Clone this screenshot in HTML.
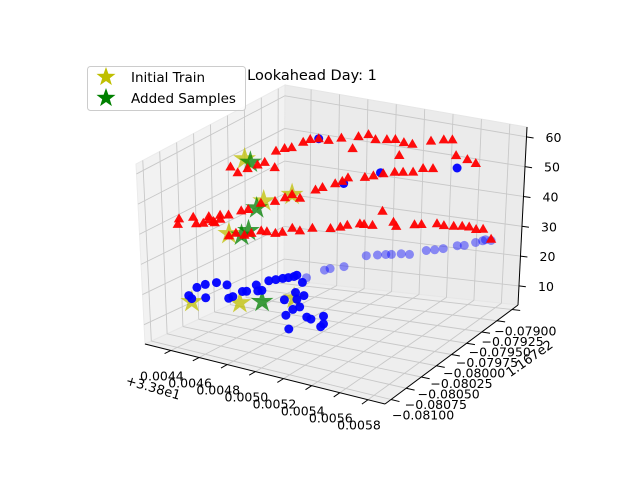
<!DOCTYPE html>
<html><head><meta charset="utf-8"><style>
html,body{margin:0;padding:0;background:#fff;}
svg{display:block;font-family:"DejaVu Sans","Liberation Sans",sans-serif;}
</style></head><body>
<svg id="chart" width="640" height="480" viewBox="0 0 640 480">
<g id="panes"></g>
<g id="grid"></g>
<g id="axes"></g>
<g id="marks"></g>
<text x="312" y="80" font-size="14.5" text-anchor="middle" fill="#000">Lookahead Day: 1</text>
<text x="152" y="392" font-size="13" text-anchor="middle" transform="rotate(16 152 392)">+3.38e1</text>
<text x="532" y="362" font-size="13" text-anchor="middle" transform="rotate(-35 532 362)">1.167e2</text>
<g>
<rect x="87.5" y="66.5" width="158" height="44" rx="3" fill="#fff" fill-opacity="0.85" stroke="#ccc"/>
<polygon id="lgY" fill="#bfbf00"/>
<text x="131" y="82" font-size="13.5">Initial Train</text>
<polygon id="lgG" fill="#008000"/>
<text x="131" y="103" font-size="13.5">Added Samples</text>
</g>
</svg>
<script>
// axis domains (x, y stored in 1e-3 units relative to offsets)
const xTicks=[4.4,4.6,4.8,5.0,5.2,5.4,5.6,5.8];
const yTicks=[-81.0,-80.75,-80.5,-80.25,-80.0,-79.75,-79.5,-79.25,-79.0];
const zTicks=[10,20,30,40,50,60];

const redX=[4.35,4.40,4.47,4.54,4.59,4.66,4.67,4.73,4.78,
4.45,4.50,4.56,4.63,4.72,4.84,4.91,4.96,5.04,5.10,5.16,5.22,5.35,5.44,5.50,4.80,5.13,5.53,5.61,5.67,
4.73,4.78,4.66,4.56,4.42,4.47,4.33,4.27,
4.50,4.39,4.29,4.28,4.41,4.46,4.54,
4.43,4.54,4.59,4.68,4.73,4.77,4.89,4.95,5.02,5.10,5.16,5.23,5.30,5.37,
4.33,4.38,4.44,4.49,4.56,4.60,4.66,4.71,4.78,
4.50,4.53,4.58,
4.43,4.52,4.65,4.72,4.77,4.86,4.89,4.95,5.02,5.10,5.12,5.25,5.30,5.41,5.46,5.53,5.59,5.64,5.69,5.74,5.80];
const redY=[-80,-80,-80,-80,-80,-80,-80,-80,-80,
-79.12,-79.12,-79.12,-79.12,-79.12,-79.12,-79.12,-79.12,-79.12,-79.12,-79.12,-79.12,-79.12,-79.12,-79.12,-79.12,-79.12,-79.12,-79.12,-79.12,
-80,-80,-80,-80,-80,-80,-80,-80,
-80.66,-80.66,-80.66,-80.66,-80.66,-80.66,-80.66,
-79.12,-79.12,-79.12,-79.12,-79.12,-79.12,-79.12,-79.12,-79.12,-79.12,-79.12,-79.12,-79.12,-79.12,
-80,-80,-80,-80,-80,-80,-80,-80,-80,
-80.66,-80.66,-80.66,
-79.12,-79.12,-79.12,-79.12,-79.12,-79.12,-79.12,-79.12,-79.12,-79.12,-79.12,-79.12,-79.12,-79.12,-79.12,-79.12,-79.12,-79.12,-79.12,-79.12,-79.12];
const redZ=[51.0,49.6,51.6,53.4,54.7,53.7,59.1,60.5,61.3,
49.8,51.0,51.7,51.7,53.1,54.5,55.7,54.5,55.1,55.6,55.1,55.0,57.1,58.2,58.7,50.4,50.7,53.8,53.1,52.3,
44.6,46.1,42.8,41.3,37.6,38.5,35.5,34.9,
44.0,42.6,41.0,39.1,40.7,41.4,42.4,
32.2,35.5,36.6,38.4,39.5,40.9,41.9,42.8,44.0,45.1,45.5,46.1,47.8,48.3,
28.8,30.1,30.0,31.0,32.4,32.5,32.5,33.3,35.2,
42.9,42.7,44.0,
22.0,23.4,24.1,25.0,25.9,26.9,26.9,27.0,32.0,29.0,27.8,29.2,29.6,30.6,30.3,30.6,31.0,31.1,30.6,31.0,28.1];

const blueX=[4.34,4.36,4.40,4.46,4.46,4.54,
4.31,4.32,4.35,4.42,4.45,4.52,4.53,4.56,4.61,4.66,4.71,4.75,4.79,4.81,4.72,4.73,4.75,4.78,4.80,4.81,4.83,4.85,4.86,4.88,4.91,5.00,5.00,4.98,
4.48,4.61,4.65,4.75,4.91,4.99,5.05,5.09,5.16,5.22,5.34,5.40,5.46,5.56,5.61,5.69,5.74,5.80,
4.56,5.00,4.74,5.54,5.76];
const blueY=[-80.66,-80.66,-80.66,-80.66,-80.66,-80.66,
-80,-80,-80,-80,-80,-80,-80,-80,-80,-80,-80,-80,-80,-80,-80,-80,-80,-80,-80,-80,-80,-80,-80,-80,-80,-80,-80,-80,
-79.12,-79.12,-79.12,-79.12,-79.12,-79.12,-79.12,-79.12,-79.12,-79.12,-79.12,-79.12,-79.12,-79.12,-79.12,-79.12,-79.12,-79.12,
-79.12,-79.12,-79.12,-79.12,-79.12];
const blueZ=[16.5,15.7,19.8,21.4,17.0,22.8,
13.0,8.8,9.6,11.8,12.1,14.7,12.9,13.3,16.8,17.6,18.4,19.0,19.7,20.3,11.6,6.7,2.4,9.0,14.6,12.5,10.2,18.3,14.1,7.3,6.9,8.6,6.1,5.0,
7.7,10.8,11.5,12.7,17.1,17.8,18.3,18.6,19.2,19.4,21.4,22.0,22.8,24.4,24.8,26.3,27.2,27.7,
51.7,44.2,38.9,49.8,27.7];

const initX=[4.45,4.58,4.78,4.33,4.40,4.79,4.36];
const initY=[-80,-80,-80,-80,-80,-80,-80.66];
const initZ=[54.5,42.2,46.1,29.5,8.0,12.7,14.7];
const addX=[4.49,4.53,4.42,4.47,4.56];
const addY=[-80,-80,-80,-80,-80];
const addZ=[53.8,39.5,29.8,31.7,9.7];

const XMIN=4.216,XMAX=5.921,YMIN=-81.1,YMAX=-78.9,ZMIN=3.6,ZMAX=63.3;
function P(x,y,z){
  const u=(x-XMIN)/(XMAX-XMIN),v=(y-YMIN)/(YMAX-YMIN),w=(z-ZMIN)/(ZMAX-ZMIN);
  const fx=145+139*v+(240-6*v)*u, fy=344-64*v+(60-35*v)*u;
  const ex=(-9+10*v)*(1-u)+9*v*u, H=180+15*v*(1-u)-2*u*v;
  return [fx+w*ex, fy-w*H];
}
const NS="http://www.w3.org/2000/svg";
function mk(tag,attrs,parent){const e=document.createElementNS(NS,tag);for(const k in attrs)e.setAttribute(k,attrs[k]);parent.appendChild(e);return e;}
function poly(pts){return pts.map(p=>p[0].toFixed(1)+","+p[1].toFixed(1)).join(" ");}
const panes=document.getElementById('panes'),grid=document.getElementById('grid'),axes=document.getElementById('axes'),marks=document.getElementById('marks');

let pe;
pe=mk('polygon',{points:poly([P(XMIN,YMIN,ZMIN),P(XMIN,YMAX,ZMIN),P(XMIN,YMAX,ZMAX),P(XMIN,YMIN,ZMAX)]),fill:'#f2f2f2',stroke:'#ebebeb'},panes);


pe=mk('polygon',{points:poly([P(XMIN,YMAX,ZMIN),P(XMAX,YMAX,ZMIN),P(XMAX,YMAX,ZMAX),P(XMIN,YMAX,ZMAX)]),fill:'#ebebeb',stroke:'#e6e6e6'},panes);


pe=mk('polygon',{points:poly([P(XMIN,YMIN,ZMIN),P(XMAX,YMIN,ZMIN),P(XMAX,YMAX,ZMIN),P(XMIN,YMAX,ZMIN)]),fill:'#eeeeee',stroke:'#e6e6e6'},panes);



function gl(a,b,name){const l=mk('line',{x1:a[0],y1:a[1],x2:b[0],y2:b[1],stroke:'#c8c8c8','stroke-width':0.9},grid);

}
xTicks.forEach(t=>{gl(P(t,YMIN,ZMIN),P(t,YMAX,ZMIN),'x-grid-floor');gl(P(t,YMAX,ZMIN),P(t,YMAX,ZMAX),'x-grid-wall');});
yTicks.forEach(t=>{gl(P(XMIN,t,ZMIN),P(XMAX,t,ZMIN),'y-grid-floor');gl(P(XMIN,t,ZMIN),P(XMIN,t,ZMAX),'y-grid-wall');});
zTicks.forEach(t=>{gl(P(XMIN,YMIN,t),P(XMIN,YMAX,t),'z-grid-left');gl(P(XMIN,YMAX,t),P(XMAX,YMAX,t),'z-grid-back');});

function al(a,b,name){const l=mk('line',{x1:a[0],y1:a[1],x2:b[0],y2:b[1],stroke:'#000','stroke-width':1},axes);

}
al(P(XMIN,YMIN,ZMIN),P(XMAX,YMIN,ZMIN),'x-axis-line');
al(P(XMAX,YMIN,ZMIN),P(XMAX,YMAX,ZMIN),'y-axis-line');
al(P(XMAX,YMAX,ZMIN),P(XMAX,YMAX,ZMAX),'z-axis-line');
function tx(x,y,s,anchor,name){const e=mk('text',{x:x.toFixed(1),y:y.toFixed(1),'font-size':12.5,'text-anchor':anchor,fill:'#000'},axes);e.textContent=s;

}
xTicks.forEach(t=>{const a=P(t,YMIN,ZMIN),b=P(t,YMIN-0.1,ZMIN);al(a,b,'x-tick');tx(a[0]-9,a[1]+30,(t/1000).toFixed(4),'middle','x-tick-label');});
yTicks.forEach(t=>{const a=P(XMAX,t,ZMIN),b=P(XMAX+0.06,t,ZMIN);al(a,b,'y-tick');const v=(t-YMIN)/(YMAX-YMIN);
tx(a[0]+1.9-20.5*v,a[1]+19.5+7*v,'\u2212'+(Math.abs(t)/1000).toFixed(5),'start','y-tick-label');});
zTicks.forEach(t=>{const a=P(XMAX,YMAX,t),b=P(XMAX+0.05,YMAX,t);al(a,b,'z-tick');tx(a[0]+19,a[1]+5,String(t),'start','z-tick-label');});

function star(cx,cy,R,r){const p=[];for(let i=0;i<10;i++){const ang=-Math.PI/2+i*Math.PI/5,rad=i%2?r:R;p.push([cx+rad*Math.cos(ang),cy+rad*Math.sin(ang)]);}return poly(p);}
document.getElementById('lgY').setAttribute('points',star(106,77,10,4));
document.getElementById('lgG').setAttribute('points',star(106,98,10,4));

initX.forEach((x,i)=>{const p=P(x,initY[i],initZ[i]);const s=mk('polygon',{points:star(p[0],p[1],12,4.5),fill:'#bfbf00','fill-opacity':0.75},marks);

});
addX.forEach((x,i)=>{const p=P(x,addY[i],addZ[i]);const s=mk('polygon',{points:star(p[0],p[1],12,4.5),fill:'#008000','fill-opacity':0.75},marks);

});
blueX.forEach((x,i)=>{const p=P(x,blueY[i],blueZ[i]);const faded=blueY[i]>-79.5&&blueZ[i]<35;
const c=mk('circle',{cx:p[0].toFixed(1),cy:p[1].toFixed(1),r:4.5,fill:'#0000ff','fill-opacity':faded?0.42:0.95},marks);

});
redX.forEach((x,i)=>{const p=P(x,redY[i],redZ[i]);const cx=p[0],cy=p[1];
const t=mk('polygon',{points:poly([[cx,cy-5.5],[cx+5.2,cy+3.5],[cx-5.2,cy+3.5]]),fill:'#ff0000','fill-opacity':0.95},marks);

});
</script>
</body></html>
